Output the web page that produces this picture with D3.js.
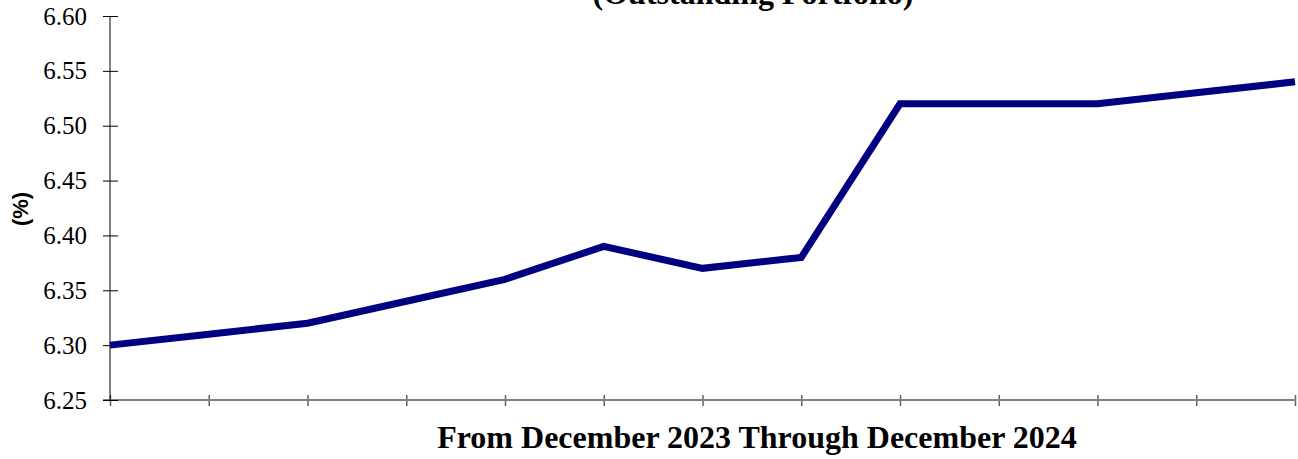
<!DOCTYPE html>
<html>
<head>
<meta charset="utf-8">
<script src="https://cdn.jsdelivr.net/npm/d3@7"></script>
<style>
  html, body { margin: 0; padding: 0; background: #fff; }
  svg { display: block; }
  svg text { font-family: "Liberation Serif", "Times New Roman", serif; }
  svg text.ylab { font-family: "Liberation Sans", Arial, sans-serif; }
</style>
</head>
<body>
<div id="chart"></div>
<script>
var months = ["Dec 2023", "Jan 2024", "Feb 2024", "Mar 2024", "Apr 2024", "May 2024", "Jun 2024",
  "Jul 2024", "Aug 2024", "Sep 2024", "Oct 2024", "Nov 2024", "Dec 2024"];
var rates = [6.30, 6.31, 6.32, 6.34, 6.36, 6.39, 6.37, 6.38, 6.52, 6.52, 6.52, 6.53, 6.54];
var yTicks = [6.25, 6.30, 6.35, 6.40, 6.45, 6.50, 6.55, 6.60];

function drawRateChart() {
  var margin = { top: 16, right: 2, bottom: 59, left: 110 };
  var width = 1298 - margin.left - margin.right;
  var height = 459 - margin.top - margin.bottom;

  var svg = d3.select("#chart")
    .append("svg")
    .attr("width", 1298)
    .attr("height", 459);

  var g = svg.append("g")
    .attr("transform", "translate(" + margin.left + "," + margin.top + ")");

  var xScale = d3.scalePoint()
    .domain(months)
    .range([0, width - 1]);

  var yScale = d3.scaleLinear()
    .domain([6.25, 6.60])
    .range([height, 0]);

  // x axis
  var xAxis = g.append("g")
    .attr("transform", "translate(0," + height + ")")
    .call(d3.axisBottom(xScale).tickSize(6).tickFormat(""));
  xAxis.select(".domain").remove();
  xAxis.append("line")
    .attr("x1", -7).attr("x2", width)
    .attr("stroke", "#808080").attr("stroke-width", 2);
  xAxis.selectAll(".tick line")
    .attr("y1", -5).attr("y2", 6)
    .attr("stroke", "#606060").attr("stroke-width", 1.5);

  // y axis
  var yAxis = g.append("g")
    .attr("font-family", "Liberation Serif, serif")
    .call(d3.axisLeft(yScale).tickValues(yTicks).tickSize(7).tickPadding(16)
      .tickFormat(d3.format(".2f")));
  yAxis.attr("font-family", "Liberation Serif, serif");
  yAxis.select(".domain").attr("d", "M0," + height + "V0").attr("stroke", "#000");
  yAxis.selectAll(".tick line").attr("x1", -7).attr("x2", 8).attr("stroke", "#000");
  yAxis.selectAll(".tick text")
    .style("font-family", "'Liberation Serif', serif")
    .attr("font-size", "25px")
    .attr("fill", "#000");

  var line = d3.line()
    .x(function(d, i) { return xScale(months[i]); })
    .y(function(d) { return yScale(d); });

  g.append("path")
    .datum(rates)
    .attr("fill", "none")
    .attr("stroke", "#000080")
    .attr("stroke-width", 7)
    .attr("stroke-linejoin", "miter")
    .attr("d", line);

  svg.append("text")
    .attr("x", 753)
    .attr("y", 4)
    .attr("text-anchor", "middle")
    .attr("font-weight", "bold")
    .attr("font-size", "32px")
    .text("(Outstanding Portfolio)");

  svg.append("text")
    .attr("x", 757)
    .attr("y", 448)
    .attr("text-anchor", "middle")
    .attr("font-weight", "bold")
    .attr("font-size", "32px")
    .text("From December 2023 Through December 2024");

  svg.append("text")
    .attr("class", "ylab")
    .attr("transform", "translate(28,209) rotate(-90)")
    .attr("text-anchor", "middle")
    .attr("font-weight", "bold")
    .attr("font-size", "22px")
    .text("(%)");
}

document.addEventListener('DOMContentLoaded', function() {
  drawRateChart();
});
</script>
</body>
</html>
